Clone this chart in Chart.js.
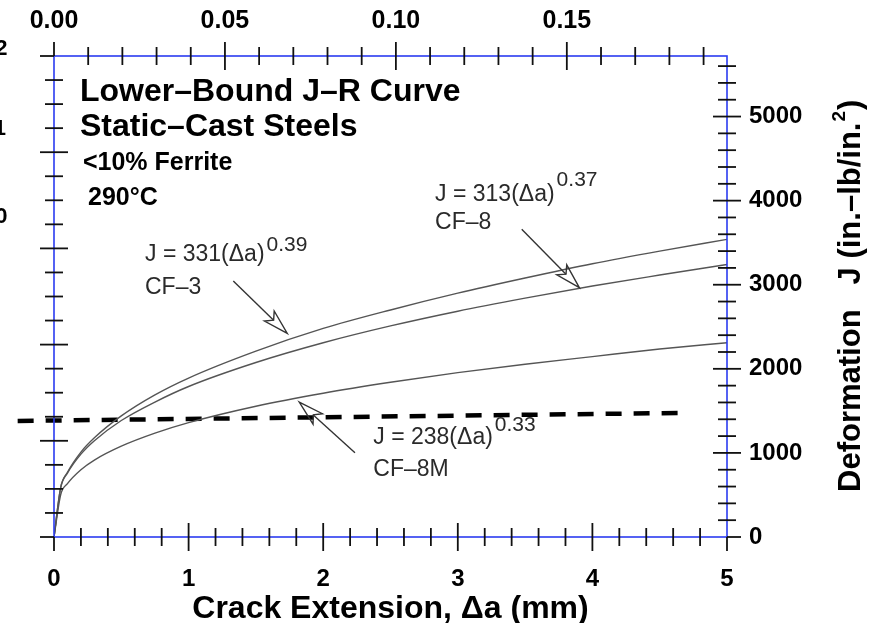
<!DOCTYPE html>
<html lang="en">
<head>
  <meta charset="UTF-8" />
  <title>Lower-Bound J-R Curve</title>
  <script src="https://cdn.jsdelivr.net/npm/chart.js"></script>
  <style>
    body {
      margin: 0;
      background: #fff;
    }

    #wrap {
      width: 877px;
      height: 623px;
    }
  </style>
</head>
<body>

  <div id="wrap"><canvas id="jrChart" width="877" height="623"></canvas></div>

  <script>
    // values: crack extension (mm) and J (in.-lb/in.^2)
    const crackExt = [0, 0.05, 0.1, 0.2, 0.3, 0.5, 0.75, 1, 1.5, 2, 2.5, 3, 3.5, 4, 4.5, 5];
    const cf3J  = [0, 590, 770, 1010, 1180, 1440, 1690, 1890, 2210, 2480, 2700, 2900, 3080, 3250, 3400, 3540];
    const cf8J  = [0, 590, 760, 985, 1145, 1385, 1605, 1790, 2075, 2310, 2510, 2685, 2840, 2985, 3115, 3240];
    const cf8mJ = [0, 505, 635, 800, 915, 1080, 1235, 1360, 1555, 1710, 1840, 1955, 2055, 2145, 2235, 2310];

    // thick dashed line
    const dashX = [-0.27, 4.64];
    const dashJ = [1380, 1475];

    // tick labels
    const mmTicks = [0, 1, 2, 3, 4, 5];
    const inchTicks = [0, 0.05, 0.10, 0.15];
    const jTicks = [0, 1000, 2000, 3000, 4000, 5000];

    const FONT = '"Liberation Sans", Arial, sans-serif';
    const AXIS_BLUE = '#2b3bf0';

    const headings = [
      { text: 'Lower–Bound J–R Curve', x: 0.193, y: 5182, size: 32 },
      { text: 'Static–Cast Steels', x: 0.193, y: 4766, size: 32 },
      { text: '<10% Ferrite', x: 0.215, y: 4361, size: 25 },
      { text: '290°C', x: 0.253, y: 3945, size: 25 }
    ];

    const curveNotes = [
      { main: 'J = 331(Δa)', sup: '0.39', grade: 'CF–3', x: 0.676, y: 3278, gy: 2885, rise: 10 },
      { main: 'J = 313(Δa)', sup: '0.37', grade: 'CF–8', x: 2.831, y: 3996, gy: 3659, rise: 15 },
      { main: 'J = 238(Δa)', sup: '0.33', grade: 'CF–8M', x: 2.372, y: 1101, gy: 723, rise: 13 }
    ];

    const arrows = [
      { from: [1.332, 3044], to: [1.733, 2421] },
      { from: [3.475, 3659], to: [3.903, 2965] },
      { from: [2.236, 1002], to: [1.822, 1604] }
    ];

    function pts(ys) {
      return crackExt.map((x, i) => ({ x: x, y: ys[i] }));
    }

    function curve(label, ys) {
      return {
        label: label,
        data: pts(ys),
        borderColor: '#555',
        borderWidth: 1.4,
        pointRadius: 0,
        cubicInterpolationMode: 'monotone',
        xAxisID: 'x',
        yAxisID: 'y'
      };
    }

    function drawTicks(ctx, scale, values, isMajor, horizontal, axisPos, inSign) {
      values.forEach((v, i) => {
        const p = scale.getPixelForValue(v);
        const major = isMajor(i);
        const atEnd = (v <= scale.min + 1e-9) || (v >= scale.max - 1e-9);
        const inLen = atEnd ? 0 : (major ? 14 : 9);
        const outLen = major ? 14 : 9;
        ctx.beginPath();
        if (horizontal) {
          ctx.moveTo(p, axisPos + inSign * inLen);
          ctx.lineTo(p, axisPos - inSign * outLen);
        } else {
          ctx.moveTo(axisPos + inSign * inLen, p);
          ctx.lineTo(axisPos - inSign * outLen, p);
        }
        ctx.stroke();
      });
    }

    const axesPlugin = {
      id: 'axesPlugin',
      afterDraw(chart) {
        const ctx = chart.ctx;
        const a = chart.chartArea;
        const sx = chart.scales.x, sxi = chart.scales.xIn;
        const sy = chart.scales.y, syk = chart.scales.yKj;
        ctx.save();

        // blue frame
        ctx.strokeStyle = AXIS_BLUE;
        ctx.lineWidth = 1.6;
        ctx.strokeRect(a.left, a.top, a.right - a.left, a.bottom - a.top);

        // ticks
        ctx.strokeStyle = '#111';
        ctx.lineWidth = 1.8;
        const bottomVals = [], topVals = [], rightVals = [], leftVals = [];
        for (let i = 0; i <= 25; i++) bottomVals.push(i * 0.2);
        for (let i = 0; i <= 19; i++) topVals.push(i * 0.01);
        for (let i = 0; i <= 28; i++) rightVals.push(i * 200);
        for (let i = 0; i <= 20; i++) leftVals.push(i * 50);
        drawTicks(ctx, sx, bottomVals, i => i % 5 === 0, true, a.bottom, -1);
        drawTicks(ctx, sxi, topVals, i => i % 5 === 0, true, a.top, 1);
        drawTicks(ctx, sy, rightVals, i => i % 5 === 0, false, a.right, -1);
        drawTicks(ctx, syk, leftVals, i => i % 4 === 0, false, a.left, 1);

        // arrows
        ctx.strokeStyle = '#333';
        ctx.lineWidth = 1.4;
        arrows.forEach(ar => {
          const x1 = sx.getPixelForValue(ar.from[0]), y1 = sy.getPixelForValue(ar.from[1]);
          const x2 = sx.getPixelForValue(ar.to[0]), y2 = sy.getPixelForValue(ar.to[1]);
          const len = Math.hypot(x2 - x1, y2 - y1);
          const ux = (x2 - x1) / len, uy = (y2 - y1) / len;
          const px = -uy, py = ux;
          const L = 25, W = 7, N = 19;
          const nx = x2 - ux * N, ny = y2 - uy * N;
          ctx.beginPath();
          ctx.moveTo(x1, y1);
          ctx.lineTo(nx, ny);
          ctx.stroke();
          ctx.beginPath();
          ctx.moveTo(x2, y2);
          ctx.lineTo(x2 - ux * L + px * W, y2 - uy * L + py * W);
          ctx.lineTo(nx, ny);
          ctx.lineTo(x2 - ux * L - px * W, y2 - uy * L - py * W);
          ctx.closePath();
          ctx.stroke();
        });

        // headings
        ctx.fillStyle = '#000';
        ctx.textAlign = 'left';
        ctx.textBaseline = 'alphabetic';
        headings.forEach(h => {
          ctx.font = 'bold ' + h.size + 'px ' + FONT;
          ctx.fillText(h.text, sx.getPixelForValue(h.x), sy.getPixelForValue(h.y));
        });

        // curve equations
        ctx.fillStyle = '#2a2a2a';
        curveNotes.forEach(n => {
          const x = sx.getPixelForValue(n.x);
          const y = sy.getPixelForValue(n.y);
          ctx.font = '23px ' + FONT;
          ctx.fillText(n.main, x, y);
          const w = ctx.measureText(n.main).width;
          ctx.fillText(n.grade, x, sy.getPixelForValue(n.gy));
          ctx.font = '21px ' + FONT;
          ctx.fillText(n.sup, x + w + 2, y - n.rise);
        });

        // axis titles
        ctx.fillStyle = '#000';
        ctx.font = 'bold 32px ' + FONT;
        ctx.textAlign = 'center';
        ctx.fillText('Crack Extension, Δa (mm)', (a.left + a.right) / 2, 618);

        ctx.save();
        ctx.translate(860, 492);
        ctx.rotate(-Math.PI / 2);
        ctx.textAlign = 'left';
        ctx.font = 'bold 31px ' + FONT;
        const t1 = 'Deformation';
        const t2 = 'J (in.–lb/in.';
        let pos = 0;
        ctx.fillText(t1, pos, 0);
        pos += ctx.measureText(t1).width + 25;
        ctx.fillText(t2, pos, 0);
        pos += ctx.measureText(t2).width + 1;
        ctx.font = 'bold 19px ' + FONT;
        ctx.fillText('2', pos, -15);
        pos += ctx.measureText('2').width + 1;
        ctx.font = 'bold 31px ' + FONT;
        ctx.fillText(')', pos, 0);
        ctx.restore();

        // clipped labels at the far left edge
        ctx.font = 'bold 22px ' + FONT;
        ctx.textAlign = 'right';
        ctx.fillText('2', 7.5, 55);
        ctx.fillText('1', 6, 135);
        ctx.fillText('0', 7.5, 223);

        ctx.restore();
      }
    };

    const tickFont = { family: FONT, size: 24, weight: 'bold' };

    new Chart(document.getElementById('jrChart'), {
      type: 'line',
      data: {
        datasets: [
          curve('CF-3', cf3J),
          curve('CF-8', cf8J),
          curve('CF-8M', cf8mJ),
          {
            label: 'dashed',
            data: dashX.map((x, i) => ({ x: x, y: dashJ[i] })),
            borderColor: '#000',
            borderWidth: 4.5,
            borderDash: [16, 12],
            pointRadius: 0,
            clip: false,
            xAxisID: 'x',
            yAxisID: 'y'
          }
        ]
      },
      options: {
        responsive: false,
        animation: false,
        layout: { padding: 0 },
        plugins: {
          legend: { display: false },
          tooltip: { enabled: false }
        },
        scales: {
          x: {
            type: 'linear',
            position: 'bottom',
            min: 0,
            max: 5,
            grid: { display: false },
            border: { display: false },
            afterBuildTicks: s => { s.ticks = mmTicks.map(v => ({ value: v })); },
            ticks: { font: tickFont, color: '#000', padding: 20, maxRotation: 0, callback: v => String(v) },
            afterFit: s => { s.height = 86; }
          },
          xIn: {
            type: 'linear',
            position: 'top',
            min: 0,
            max: 5 / 25.4,
            grid: { display: false },
            border: { display: false },
            afterBuildTicks: s => { s.ticks = inchTicks.map(v => ({ value: v })); },
            ticks: { font: { family: FONT, size: 25, weight: 'bold' }, color: '#000', padding: 12, maxRotation: 0,
                     callback: v => Number(v).toFixed(2) },
            afterFit: s => { s.height = 56; }
          },
          y: {
            type: 'linear',
            position: 'right',
            min: 0,
            max: 5720,
            grid: { display: false },
            border: { display: false },
            afterBuildTicks: s => { s.ticks = jTicks.map(v => ({ value: v })); },
            ticks: { font: tickFont, color: '#000', padding: 14, callback: v => String(v) },
            afterFit: s => { s.width = 150; }
          },
          yKj: {
            type: 'linear',
            position: 'left',
            min: 0,
            max: 1000,
            grid: { display: false },
            border: { display: false },
            ticks: { display: false },
            afterFit: s => { s.width = 54; }
          }
        }
      },
      plugins: [axesPlugin]
    });
  </script>

</body>
</html>
